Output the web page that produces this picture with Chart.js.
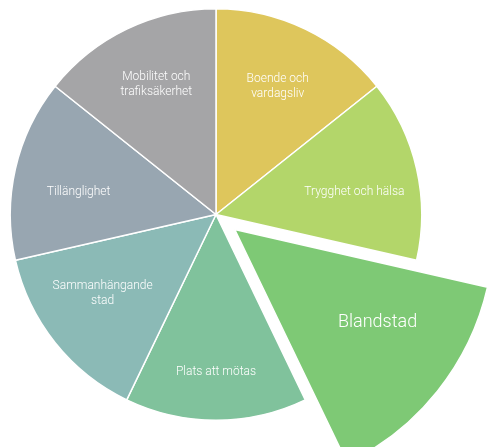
<!DOCTYPE html>
<html>
<head>
<meta charset="utf-8">
<script src="https://cdn.jsdelivr.net/npm/chart.js@4.4.1/dist/chart.umd.min.js"></script>
<style>
  body { margin: 0; background: #fff; }
</style>
</head>
<body>
<canvas id="pieChart" width="489" height="447"></canvas>
<script>
// data
const categories = [
    "Boende och\nvardagsliv",
    "Trygghet och hälsa",
    "Blandstad",
    "Plats att mötas",
    "Sammanhängande\nstad",
    "Tillänglighet",
    "Mobilitet och\ntrafiksäkerhet"
];
const values = [1, 1, 1, 1, 1, 1, 1];
const colors = ['#dec65c', '#b3d66a', '#7ec975', '#80c29c', '#8bbab6', '#98a6b1', '#a5a5a7'];

// pulls one slice out and makes it bigger
const explodePlugin = {
    id: 'explode',
    afterDatasetsUpdate(chart, args, opts) {
        const arc = chart.getDatasetMeta(0).data[opts.index];
        const mid = (arc.startAngle + arc.endAngle) / 2;
        arc.x += opts.shift * Math.cos(mid);
        arc.y += opts.shift * Math.sin(mid);
        arc.outerRadius *= opts.scale;
    }
};

// white labels inside the slices
const labelPlugin = {
    id: 'sliceLabels',
    afterDatasetsDraw(chart, args, opts) {
        const ctx = chart.ctx;
        const meta = chart.getDatasetMeta(0);
        ctx.save();
        ctx.fillStyle = '#fff';
        ctx.textAlign = 'center';
        ctx.textBaseline = 'middle';
        meta.data.forEach((arc, i) => {
            const mid = (arc.startAngle + arc.endAngle) / 2;
            const big = i === opts.bigIndex;
            const r = big ? arc.outerRadius * 0.66 : arc.outerRadius * 0.68;
            const shift = opts.shifts[i];
            const x = arc.x + r * Math.cos(mid) + shift[0];
            const y = arc.y + r * Math.sin(mid) + shift[1];
            const size = big ? 18 : 12;
            const lh = big ? 20 : 15;
            ctx.font = '300 ' + size + 'px Roboto';
            const lines = chart.data.labels[i].split('\n');
            lines.forEach((line, j) => {
                ctx.fillText(line, x, y + (j - (lines.length - 1) / 2) * lh);
            });
        });
        ctx.restore();
    }
};

const ctx = document.getElementById('pieChart');
new Chart(ctx, {
    type: 'pie',
    data: {
        labels: categories,
        datasets: [{
            data: values,
            backgroundColor: colors,
            borderColor: '#fff',
            borderWidth: 1.5,
            clip: false
        }]
    },
    options: {
        responsive: false,
        animation: false,
        events: [],
        layout: {
            padding: { left: 9, top: 8, right: 66, bottom: 26 }
        },
        plugins: {
            legend: { display: false },
            tooltip: { enabled: false },
            explode: { index: 2, shift: 24, scale: 1.26 },
            sliceLabels: {
                bigIndex: 2,
                shifts: [[1, -2], [2, 9], [9, -14], [0, 18], [-4, -8], [-1, 9], [1, -4]]
            }
        }
    },
    plugins: [explodePlugin, labelPlugin]
});
</script>
</body>
</html>
